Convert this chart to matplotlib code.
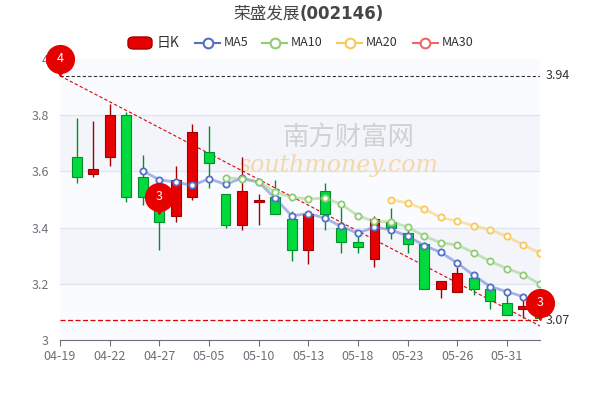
import matplotlib
matplotlib.use("Agg")
import matplotlib.pyplot as plt
import numpy as np
from matplotlib.patches import FancyBboxPatch, Rectangle

plt.rcParams['font.family'] = ['Noto Sans CJK SC', 'DejaVu Sans']

opens  = [3.65,3.59,3.65,3.80,3.58,3.50,3.44,3.51,3.67,3.52,3.41,3.49,3.51,3.43,3.32,3.53,3.40,3.35,3.29,3.42,3.38,3.34,3.18,3.17,3.22,3.18,3.13,3.11,3.11]
closes = [3.58,3.61,3.80,3.51,3.51,3.42,3.57,3.74,3.63,3.41,3.53,3.50,3.45,3.32,3.45,3.45,3.35,3.33,3.43,3.40,3.34,3.18,3.21,3.24,3.18,3.14,3.09,3.12,3.08]
highs  = [3.79,3.78,3.84,3.81,3.66,3.52,3.62,3.77,3.76,3.52,3.65,3.52,3.57,3.46,3.46,3.56,3.49,3.37,3.44,3.47,3.39,3.35,3.21,3.26,3.24,3.19,3.16,3.145,3.12]
lows   = [3.56,3.58,3.62,3.49,3.48,3.32,3.42,3.50,3.54,3.40,3.39,3.41,3.45,3.28,3.27,3.39,3.31,3.31,3.26,3.36,3.31,3.18,3.15,3.17,3.16,3.11,3.09,3.08,3.07]
xlabels = ['04-19','04-22','04-27','05-05','05-10','05-13','05-18','05-23','05-26','05-31']
max_val, min_val = 3.94, 3.07

n = len(opens)
fig = plt.figure(figsize=(6,4), dpi=100)
ax = fig.add_axes([0.1, 0.15, 0.8, 0.7025])
ax.set_xlim(-1, n-1); ax.set_ylim(3, 4)
for lo, hi in [(3.2,3.4),(3.6,3.8)]:
    ax.axhspan(lo, hi, color='#f3f5fb', zorder=0)
for lo, hi in [(3.0,3.2),(3.4,3.6),(3.8,4.0)]:
    ax.axhspan(lo, hi, color='#fafbfe', zorder=0)
for v in [3.2,3.4,3.6,3.8]:
    ax.axhline(v, color='#e0e6f1', lw=1, zorder=0.5)
for s in ['top','right','left']:
    ax.spines[s].set_visible(False)
ax.spines['bottom'].set_color('#6e7079')

# watermark
ax.text(0.6, 0.72, '南方财富网', transform=ax.transAxes, fontsize=19, color='#c8c8c8', alpha=0.8, ha='center', va='center', zorder=1)
ax.text(0.58, 0.62, 'southmoney.com', transform=ax.transAxes, fontsize=17, color='#f5d7a8', style='italic', ha='center', va='center', zorder=1, family='DejaVu Serif')

x = np.arange(n)
for i in range(n):
    up = closes[i] >= opens[i]
    fc = '#e60000' if up else '#00da3c'
    ec = '#a00000' if up else '#008f28'
    ax.vlines(x[i], lows[i], highs[i], color=ec, lw=1, zorder=3)
    b = min(opens[i], closes[i]); h = max(abs(closes[i]-opens[i]), 0.008)
    ax.add_patch(Rectangle((x[i]-0.3, b), 0.6, h, facecolor=fc, edgecolor=ec, lw=0.8, zorder=4))

c = np.array(closes)
def ma(k):
    return np.array([np.nan if i < k-1 else c[i-k+1:i+1].mean() for i in range(n)])
for k, col in [(5,'#5470c6'),(10,'#91cc75'),(20,'#fac858')]:
    m = ma(k)
    ax.plot(x, m, color=col, lw=2, alpha=0.5, zorder=5)
    ax.plot(x, m, 'o', ms=4.5, mfc='white', mec=col, mew=1.3, zorder=6)

ax.axhline(max_val, color='#333', lw=0.8, ls=(0,(3,2)), zorder=2)
ax.axhline(min_val, color='#e00000', lw=0.9, ls=(0,(4,2)), zorder=2)
ax.plot([-1, n-1], [max_val, 3.05], color='#e00000', lw=0.8, ls=(0,(3,2)), zorder=2)
ax.text(n-1+0.35, max_val, '3.94', va='center', fontsize=9, color='#333')
ax.text(n-1+0.35, min_val, '3.07', va='center', fontsize=9, color='#333')

def pin(xp, yp, label):
    ax.plot(xp, yp+0.06, marker='o', ms=20, color='#e60000', zorder=8, clip_on=False)
    ax.plot(xp, yp+0.025, marker='v', ms=10, color='#e60000', zorder=8, clip_on=False)
    ax.text(xp, yp+0.062, label, color='white', fontsize=9, ha='center', va='center', zorder=9, clip_on=False)
pin(-1, max_val, '4')
pin(x[5], 3.45, '3')
pin(x[-1], min_val, '3')

ax.set_yticks([3,3.2,3.4,3.6,3.8,4])
ax.set_yticklabels(['3','3.2','3.4','3.6','3.8','4'])
ax.tick_params(axis='y', length=0, colors='#6e7079', labelsize=9, pad=8)
ax.set_xticks(np.arange(-1, n-1, 3))
ax.set_xticklabels(xlabels)
ax.tick_params(axis='x', colors='#6e7079', labelsize=9, length=4)

fig.text(0.5, 0.965, '荣盛发展', fontsize=12, color='#464646', ha='right', va='center')
fig.text(0.5, 0.965, '(002146)', fontsize=12, color='#464646', ha='left', va='center', weight='bold', family='DejaVu Sans')

# legend
fig.patches.append(FancyBboxPatch((128/600, 1-49/400), 24/600, 12/400, boxstyle='round,pad=0,rounding_size=0.01', fc='#e60000', ec='#a00000', transform=fig.transFigure))
fig.text(157/600, 1-43/400, '日K', fontsize=10, color='#333', va='center')
for xs, lab, col in [(195,'MA5','#5470c6'),(262,'MA10','#91cc75'),(337,'MA20','#fac858'),(413,'MA30','#ee6666')]:
    fig.lines.append(plt.Line2D([xs/600,(xs+25)/600],[1-43/400]*2, color=col, lw=1.5, transform=fig.transFigure))
    fig.lines.append(plt.Line2D([(xs+12.5)/600],[1-43/400], marker='o', ms=7, mfc='white', mec=col, mew=1.5, transform=fig.transFigure))
    fig.text((xs+29)/600, 1-43/400, lab, fontsize=9, color='#333', va='center')

fig.savefig('out.png', dpi=100)
